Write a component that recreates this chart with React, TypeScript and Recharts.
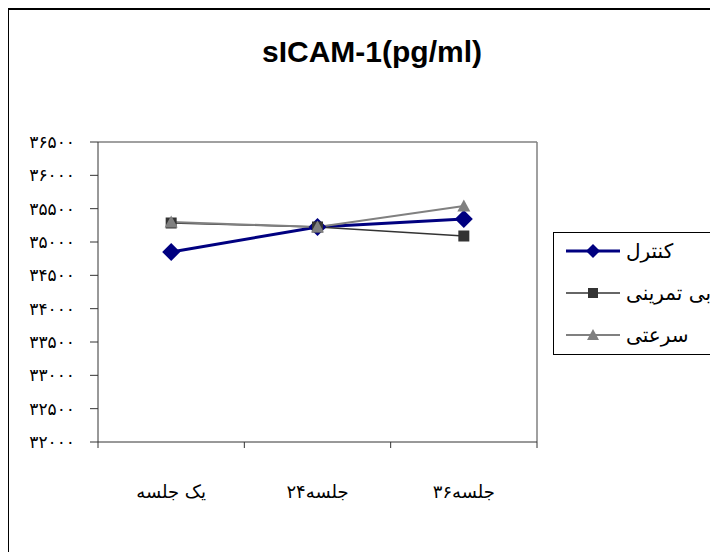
import { LineChart, Line, XAxis, YAxis, ReferenceLine } from "recharts";

const sessions = ["یک جلسه", "۲۴جلسه", "۳۶جلسه"];
const sessionPos = [0.5, 1.5, 2.5];
const bandEdges = [0, 1, 2, 3];
const control = [34850, 35225, 35345];
const noTraining = [35285, 35225, 35090];
const speed = [35300, 35225, 35540];
const yTicks = [32000, 32500, 33000, 33500, 34000, 34500, 35000, 35500, 36000, 36500];

const seriesKeys = ["control", "noTraining", "speed"];
const seriesNames = ["کنترل", "بی تمرینی", "سرعتی"];

const data = sessions.map((s, i) => ({
  idx: sessionPos[i],
  name: s,
  control: control[i],
  noTraining: noTraining[i],
  speed: speed[i],
}));

const faDigits = (v: number | string) =>
  String(v).replace(/\d/g, (d) => "۰۱۲۳۴۵۶۷۸۹"[Number(d)]);

function Marker({ kind, cx, cy, s, fill }: any) {
  if (kind === "diamond")
    return <path d={`M${cx},${cy - s}L${cx + s},${cy}L${cx},${cy + s}L${cx - s},${cy}Z`} fill={fill} />;
  if (kind === "square")
    return <rect x={cx - s} y={cy - s} width={s * 2} height={s * 2} fill={fill} />;
  return <path d={`M${cx},${cy - s}L${cx + s},${cy + s * 0.85}L${cx - s},${cy + s * 0.85}Z`} fill={fill} />;
}

const seriesStyle: Record<string, { color: string; width: number; kind: string; size: number; legendSize: number }> = {
  control: { color: "#000080", width: 3, kind: "diamond", size: 9, legendSize: 7 },
  noTraining: { color: "#333333", width: 1.5, kind: "square", size: 5.5, legendSize: 5 },
  speed: { color: "#808080", width: 2, kind: "triangle", size: 6.5, legendSize: 6 },
};

// legend drawn as a plain box, rows follow seriesKeys order
function LegendBox() {
  return (
    <div
      style={{
        position: "absolute",
        left: 545,
        top: 224,
        border: "1px solid #000",
        background: "#fff",
        width: 200,
        height: 123,
        padding: "0 0 0 10px",
        boxSizing: "border-box",
      }}
    >
      <div style={{ position: "relative", top: -3 }}>
        {seriesKeys.map((k, i) => {
          const st = seriesStyle[k];
          return (
            <div key={k} style={{ display: "flex", alignItems: "center", height: 42 }}>
              <svg width={58} height={16}>
                <line x1={2} y1={8} x2={56} y2={8} stroke={st.color} strokeWidth={st.width} />
                <Marker kind={st.kind} cx={29} cy={8} s={st.legendSize} fill={st.color} />
              </svg>
              <span style={{ marginLeft: 4, fontFamily: "'DejaVu Sans', sans-serif", fontSize: 20, color: "#000", whiteSpace: "nowrap" }}>
                {seriesNames[i]}
              </span>
            </div>
          );
        })}
      </div>
    </div>
  );
}

export default function App() {
  return (
    <div style={{ position: "relative", width: 710, height: 544, overflow: "hidden", background: "#fff" }}>
      <div style={{ position: "absolute", left: -1, top: 0, width: 760, height: 600, border: "2px solid #000" }} />
      <div
        style={{
          position: "absolute",
          left: 214,
          top: 29,
          width: 300,
          textAlign: "center",
          fontFamily: "'Liberation Sans', Arial, sans-serif",
          fontWeight: "bold",
          fontSize: 30,
          lineHeight: 1,
        }}
      >
        sICAM-1(pg/ml)
      </div>
      <div style={{ position: "absolute", left: 0, top: 0 }}>
        <LineChart width={710} height={544} data={data} margin={{ top: 134, right: 181, bottom: 30, left: 30 }}>
          <XAxis
            dataKey="idx"
            type="number"
            domain={[0, 3]}
            ticks={bandEdges}
            interval={0}
            tickFormatter={() => ""}
            tickSize={6}
            height={10}
            stroke="#333"
            allowDataOverflow
          />
          <XAxis
            xAxisId="lab"
            dataKey="idx"
            type="number"
            domain={[0, 3]}
            ticks={sessionPos}
            interval={0}
            tickFormatter={(v: number) => sessions[sessionPos.indexOf(v)]}
            axisLine={false}
            tickLine={false}
            tickSize={0}
            tickMargin={33}
            height={70}
            tick={{ fill: "#000", fontSize: 18, fontFamily: "'DejaVu Sans', serif" }}
          />
          <YAxis
            domain={[32000, 36500]}
            ticks={yTicks}
            interval={0}
            tickFormatter={faDigits}
            width={60}
            tickSize={8}
            tickMargin={15}
            stroke="#333"
            tick={{ fill: "#000", fontSize: 17, fontFamily: "'DejaVu Sans', serif" }}
            allowDataOverflow
          />
          <ReferenceLine y={36500} stroke="#808080" strokeWidth={1.5} />
          <ReferenceLine x={3} stroke="#808080" strokeWidth={1.5} />
          {seriesKeys.map((k, i) => {
            const st = seriesStyle[k];
            return (
              <Line
                key={k}
                dataKey={k}
                name={seriesNames[i]}
                stroke={st.color}
                strokeWidth={st.width}
                isAnimationActive={false}
                dot={(p: any) => <Marker key={`${k}-${p.index}`} kind={st.kind} cx={p.cx} cy={p.cy} s={st.size} fill={st.color} />}
                activeDot={false}
              />
            );
          })}
        </LineChart>
      </div>
      <LegendBox />
    </div>
  );
}
